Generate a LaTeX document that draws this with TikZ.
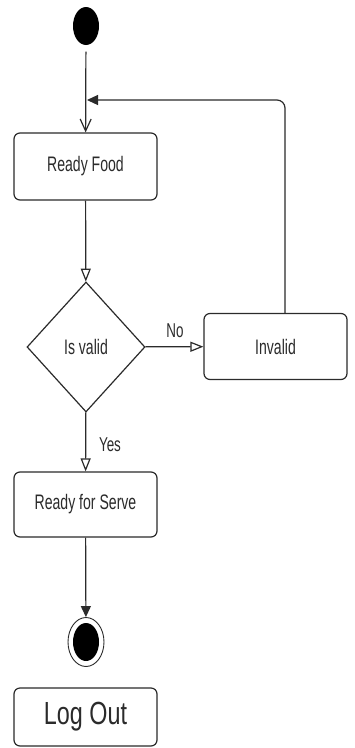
\documentclass[tikz,border=0pt]{standalone}
\usepackage{fontspec}
\setmainfont{Liberation Sans}[FakeStretch=0.67]
\newfontfamily\bigfont{Liberation Sans}[FakeStretch=0.73]
\usetikzlibrary{arrows.meta,shapes.geometric}
\definecolor{ink}{HTML}{2B2B2B}
\begin{document}
\begin{tikzpicture}[x=1pt,y=-1pt,line width=1.2pt,draw=ink,text=ink,
  activity/.style={draw,rounded corners=6pt,minimum width=143pt,inner sep=0pt,
    font=\fontsize{21}{24}\selectfont},
  decision/.style={draw,diamond,minimum width=118pt,minimum height=130pt,inner sep=0pt,
    font=\fontsize{21}{24}\selectfont},
  lbl/.style={font=\fontsize{20}{24}\selectfont,inner sep=0pt},
  opentip/.style={-{Triangle[open,length=13pt,width=10pt]}},
  filltip/.style={-{Triangle[length=11pt,width=10pt]}}]
  \useasboundingbox[fill=white] (0,0) rectangle (355,748);

  % initial and final states
  \node[ellipse,fill=black,minimum width=26pt,minimum height=38pt,inner sep=0pt] (start) at (86,26) {};
  \node[ellipse,draw,line width=0.9pt,minimum width=36pt,minimum height=49pt,inner sep=0pt] (fin) at (86,642) {};
  \node[ellipse,fill=black,minimum width=26pt,minimum height=38pt,inner sep=0pt] (finin) at (86,642) {};

  % activities
  \node[activity,minimum height=67pt] (food) at (85.5,166.5) {Ready Food};
  \node[decision] (dec) at (86,347) {Is valid};
  \node[activity,minimum height=66pt] (inv) at (275.5,346.5) {Invalid};
  \node[activity,minimum height=65pt] (serve) at (85.5,504.5) {Ready for Serve};
  \node[activity,minimum height=58pt,font=\bigfont\fontsize{32}{36}\selectfont] (logout) at (85.5,717) {Log Out};

  % flows
  \coordinate (merge) at (87,100);
  \draw[-{Straight Barb[length=12pt,width=11pt]},shorten <=6pt] (start) -- (food);
  \draw[opentip] (food) -- (dec);
  \draw[opentip] (dec) -- (inv);
  \node[lbl] (no) at (175,331) {No};
  \draw[opentip] (dec) -- (serve);
  \node[lbl] (yes) at (110,445) {Yes};
  \draw[filltip] (serve) -- (fin);
  \draw[filltip,rounded corners=8pt] ([xshift=9.5pt]inv.north) |- (merge);
\end{tikzpicture}
\end{document}
